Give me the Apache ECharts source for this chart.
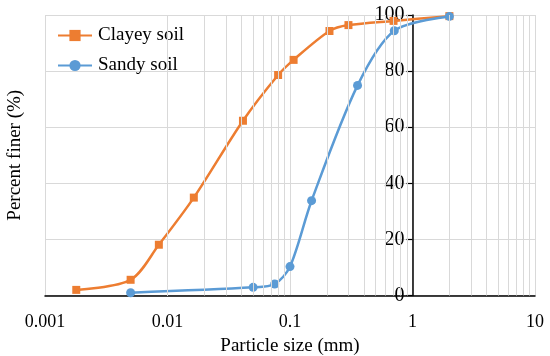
<!DOCTYPE html>
<html>
<head>
<meta charset="utf-8">
<script src="https://cdn.jsdelivr.net/npm/echarts@6/dist/echarts.min.js"></script>
<style>html,body{margin:0;padding:0;background:#fff;}#c{width:550px;height:356px;}</style>
</head>
<body>
<div id="c"></div>
<script>
// Data
const clayeySize = [0.0018, 0.005, 0.0085, 0.0164, 0.0413, 0.08, 0.107, 0.21, 0.30, 0.70, 2.0];
const clayeyFiner = [2.0, 5.6, 18.1, 34.9, 62.3, 78.6, 84.0, 94.3, 96.4, 97.9, 99.6];
const sandySize = [0.005, 0.05, 0.075, 0.1, 0.15, 0.356, 0.71, 2.0];
const sandyFiner = [1.0, 2.9, 4.1, 10.3, 33.8, 74.9, 94.4, 99.5];
const seriesNames = ['Clayey soil', 'Sandy soil'];
const xTickLabels = ['0.001', '0.01', '0.1', '1', '10'];
const yTicks = [0, 20, 40, 60, 80, 100];

const FONT = 'Liberation Serif';
const minorLines = [];
for (let d = -3; d <= 0; d++) {
  for (let k = 2; k <= 9; k++) minorLines.push({ xAxis: k * Math.pow(10, d) });
}

const chart = echarts.init(document.getElementById('c'), null, { renderer: 'canvas' });
chart.setOption({
  animation: false,
  backgroundColor: '#fff',
  grid: { left: 45, right: 15, top: 15, bottom: 60.5, containLabel: false, outerBoundsMode: 'none' },
  legend: {
    left: 57, top: 26, orient: 'vertical', itemWidth: 34, itemHeight: 14, itemGap: 11, padding: 0,
    data: seriesNames,
    textStyle: { fontFamily: FONT, fontSize: 19, color: '#000', padding: [0, 0, 0, 1] }
  },
  xAxis: {
    type: 'log', logBase: 10, min: 0.001, max: 10,
    name: 'Particle size (mm)', nameLocation: 'middle', nameGap: 41,
    nameTextStyle: { fontFamily: FONT, fontSize: 19, color: '#000' },
    axisLine: { show: true, lineStyle: { color: '#000', width: 1.5 } },
    axisTick: { show: false },
    axisLabel: {
      fontFamily: FONT, fontSize: 18, color: '#000', margin: 18,
      formatter: function (v) {
        const i = Math.round(Math.log10(v)) + 3;
        return xTickLabels[i] !== undefined ? xTickLabels[i] : '';
      }
    },
    splitLine: { show: true, lineStyle: { color: '#d9d9d9', width: 1 } }
  },
  yAxis: [
    {
      type: 'value', min: yTicks[0], max: yTicks[yTicks.length - 1], interval: 20,
      position: 'left', offset: -367.5,
      axisLine: { show: true, lineStyle: { color: '#000', width: 1.5 } },
      axisTick: { show: true, length: 6, lineStyle: { color: '#000', width: 1.2 } },
      axisLabel: { fontFamily: FONT, fontSize: 20, color: '#000', margin: 8 },
      splitLine: { show: true, lineStyle: { color: '#d9d9d9', width: 1 } }
    },
    {
      type: 'value', min: yTicks[0], max: yTicks[yTicks.length - 1], interval: 20,
      position: 'left',
      name: 'Percent finer (%)', nameLocation: 'middle', nameGap: 20,
      nameTextStyle: { fontFamily: FONT, fontSize: 19, color: '#000' },
      axisLine: { show: false }, axisTick: { show: false },
      axisLabel: { show: false }, splitLine: { show: false }
    }
  ],
  series: [
    {
      name: 'minor-grid', type: 'line', data: [], z: 1, silent: true,
      markLine: {
        silent: true, symbol: 'none', animation: false,
        label: { show: false },
        lineStyle: { color: '#d9d9d9', width: 1, type: 'solid' },
        emphasis: { disabled: true },
        data: minorLines
      }
    },
    {
      name: seriesNames[0], type: 'line', z: 3, smooth: 0.3,
      data: clayeySize.map((x, i) => [x, clayeyFiner[i]]),
      symbol: 'rect', symbolSize: 8,
      lineStyle: { color: '#ED7D31', width: 2.5 },
      itemStyle: { color: '#ED7D31' }
    },
    {
      name: seriesNames[1], type: 'line', z: 4, smooth: 0.3,
      data: sandySize.map((x, i) => [x, sandyFiner[i]]),
      symbol: 'circle', symbolSize: 9,
      lineStyle: { color: '#5B9BD5', width: 2.5 },
      itemStyle: { color: '#5B9BD5' }
    }
  ]
});
</script>
</body>
</html>
